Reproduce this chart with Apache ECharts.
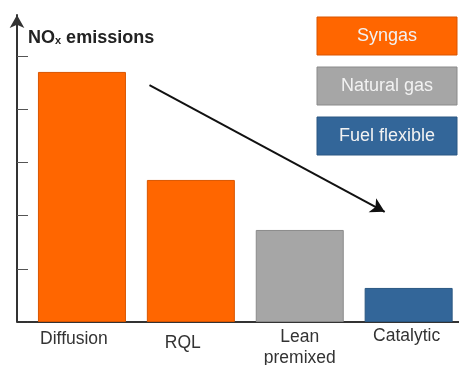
<!DOCTYPE html>
<html>
<head>
<meta charset="utf-8">
<script src="https://cdn.jsdelivr.net/npm/echarts@6/dist/echarts.min.js"></script>
<style>
  html, body { margin: 0; padding: 0; background: #fff; }
  #chart { width: 459px; height: 365px; }
</style>
</head>
<body>
<div id="chart"></div>
<script>
// Combustor technologies and their relative NOx levels
const categories = ['Diffusion', 'RQL', 'Lean premixed', 'Catalytic'];
const noxLevels = [4.70, 2.67, 1.73, 0.64];
const fuelOfCategory = ['Syngas', 'Syngas', 'Natural gas', 'Fuel flexible'];
const fuels = ['Syngas', 'Natural gas', 'Fuel flexible'];
const tickValues = [1, 2, 3, 4, 5];
// Downward trend arrow, in (category position, NOx level) units
const trendFrom = [0.62, 4.45];
const trendTo = [2.78, 2.07];

const fuelFill = { 'Syngas': '#FF6600', 'Natural gas': '#A6A6A6', 'Fuel flexible': '#336699' };
const fuelEdge = { 'Syngas': '#D95500', 'Natural gas': '#8A8A8A', 'Fuel flexible': '#2A5782' };

const labelKeys = ['d', 'r', 'l', 'c'];
const FONT = 'Liberation Sans, Arial, sans-serif';

const chart = echarts.init(document.getElementById('chart'), null, { renderer: 'canvas' });

// Fuel key: coloured boxes with their names centred inside
const legendBoxes = [];
fuels.forEach((f, i) => {
  legendBoxes.push({
    type: 'rect',
    shape: { x: 317, y: 17 + i * 50, width: 140, height: 38 },
    style: { fill: fuelFill[f], stroke: fuelEdge[f], lineWidth: 1 }
  });
  legendBoxes.push({
    type: 'text',
    x: 387, y: 36 + i * 50,
    style: {
      text: f, align: 'center', verticalAlign: 'middle',
      fill: '#F2F2F2', font: '18px ' + FONT
    }
  });
});

const option = {
  backgroundColor: '#fff',
  animation: false,
  title: {
    text: '{a|NO}{b|x}{a| emissions}',
    left: 28, top: 29, padding: 0,
    textStyle: {
      rich: {
        a: { fontFamily: FONT, fontWeight: 'bold', fontSize: 18, color: '#222' },
        b: { fontFamily: FONT, fontWeight: 'bold', fontSize: 11, color: '#222', padding: [6, 0, 0, 0] }
      }
    }
  },
  grid: { left: 27.5, right: -4.1, top: 15, bottom: 43, containLabel: false, outerBoundsMode: 'none' },
  xAxis: [{
    type: 'category',
    data: categories,
    boundaryGap: true,
    axisLine: { show: true, onZero: false, lineStyle: { color: '#333', width: 2 } },
    axisTick: { show: false },
    axisLabel: {
      margin: 5,
      interval: 0,
      formatter: (v, i) => {
        const k = labelKeys[i];
        return v.split(' ').map(w => '{' + k + '|' + w + '}').join('\n');
      },
      rich: {
        d: { fontFamily: FONT, fontSize: 17.5, color: '#333', padding: [3, 16, 0, 0] },
        r: { fontFamily: FONT, fontSize: 17.5, color: '#333', padding: [7, 16, 0, 0] },
        l: { fontFamily: FONT, fontSize: 17.5, color: '#333', lineHeight: 21, padding: [0, 0, 0, 0] },
        c: { fontFamily: FONT, fontSize: 17.5, color: '#333', padding: [0, 4, 0, 0] }
      }
    }
  }, {
    type: 'value', min: -0.5, max: 3.5, show: false
  }],
  yAxis: {
    type: 'value',
    min: 0, max: 5.77,
    offset: 10.5,
    axisLine: {
      show: true,
      onZero: false,
      symbol: ['none', 'arrow'],
      symbolSize: [11, 13],
      lineStyle: { color: '#333', width: 2 }
    },
    axisTick: { show: true, inside: true, length: 11, customValues: tickValues, lineStyle: { color: '#555', width: 1 } },
    axisLabel: { show: false },
    splitLine: { show: false }
  },
  graphic: legendBoxes,
  series: [{
    type: 'bar',
    barWidth: 88,
    data: noxLevels.map((v, i) => ({
      value: v,
      itemStyle: { color: fuelFill[fuelOfCategory[i]], borderColor: fuelEdge[fuelOfCategory[i]], borderWidth: 1 }
    }))
  }, {
    type: 'line',
    xAxisIndex: 1,
    data: [],
    markLine: {
      silent: true,
      symbol: ['none', 'arrow'],
      symbolSize: [12, 14],
      label: { show: false },
      lineStyle: { color: '#111', width: 2, type: 'solid' },
      data: [[{ coord: trendFrom }, { coord: trendTo }]]
    }
  }]
};

chart.setOption(option);

// Close the baseline gap between the offset value axis and the grid's left edge
const origin = chart.convertToPixel({ xAxisIndex: 1, yAxisIndex: 0 }, [-0.5, 0]);
chart.setOption({
  graphic: legendBoxes.concat([{
    type: 'line',
    shape: { x1: origin[0] - 10.5, y1: origin[1], x2: origin[0], y2: origin[1] },
    style: { stroke: '#333', lineWidth: 2 }
  }])
});
</script>
</body>
</html>
